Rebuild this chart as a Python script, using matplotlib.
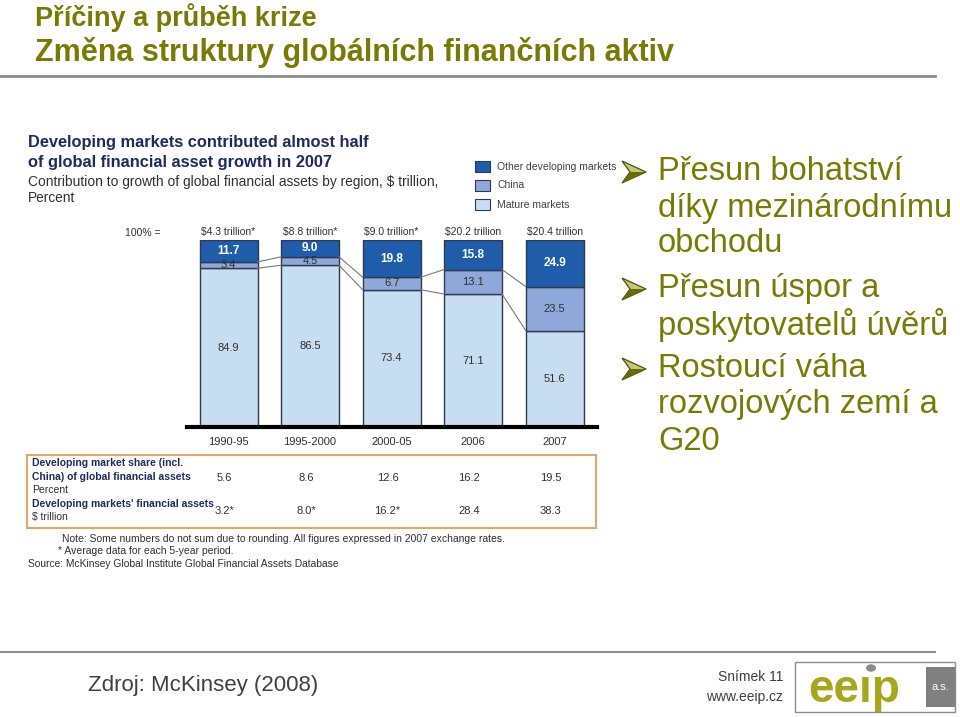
# -*- coding: utf-8 -*-
# %%
import matplotlib

matplotlib.use("Agg")
import matplotlib.pyplot as plt
import numpy as np
from matplotlib.patches import Circle, Polygon, Rectangle
from matplotlib.transforms import blended_transform_factory

# %%
periods = ["1990-95", "1995-2000", "2000-05", "2006", "2007"]
totals = ["$4.3 trillion*", "$8.8 trillion*", "$9.0 trillion*", "$20.2 trillion", "$20.4 trillion"]
mature = [84.9, 86.5, 73.4, 71.1, 51.6]
china = [3.4, 4.5, 6.7, 13.1, 23.5]
other_dev = [11.7, 9.0, 19.8, 15.8, 24.9]
dev_share = ["5.6", "8.6", "12.6", "16.2", "19.5"]
dev_assets = ["3.2*", "8.0*", "16.2*", "28.4", "38.3"]

bullets = [
    ["Přesun bohatství", "díky mezinárodnímu", "obchodu"],
    ["Přesun úspor a", "poskytovatelů úvěrů"],
    ["Rostoucí váha", "rozvojových zemí a", "G20"],
]

# %%
W, H = 960, 717
OLIVE = "#787A05"
NAVY = "#1E2B5E"
C_OTHER, C_CHINA, C_MATURE = "#1F5CAA", "#8EA9D9", "#C7DDF1"
EDGE = "#2E3A52"
SANS = ["Liberation Sans", "DejaVu Sans"]
NARROW = ["Liberation Sans Narrow", "Liberation Sans", "DejaVu Sans"]

plt.rcParams["font.family"] = SANS


def fx(x):
    return x / W


def fy(y):
    return 1 - y / H


fig = plt.figure(figsize=(W / 100, H / 100), dpi=100)

# slide title
fig.text(fx(35), fy(18), "Příčiny a průběh krize", color=OLIVE, fontsize=19.5,
         fontweight="bold", family=NARROW, va="center")
fig.text(fx(35), fy(53), "Změna struktury globálních finančních aktiv", color=OLIVE,
         fontsize=22, fontweight="bold", family=NARROW, va="center")
fig.add_artist(plt.Line2D([0, fx(935)], [fy(76), fy(76)], color="#8C8C8C", lw=2))

# chart heading
fig.text(fx(28), fy(143), "Developing markets contributed almost half", color=NAVY,
         fontsize=11.8, fontweight="bold", va="center")
fig.text(fx(28), fy(163), "of global financial asset growth in 2007", color=NAVY,
         fontsize=11.8, fontweight="bold", va="center")
fig.text(fx(28), fy(182), "Contribution to growth of global financial assets by region, $ trillion,",
         color="#303030", fontsize=9.9, family=NARROW, va="center")
fig.text(fx(28), fy(198), "Percent", color="#303030", fontsize=9.9, family=NARROW, va="center")

# legend
for i, (lab, col) in enumerate([("Other developing markets", C_OTHER), ("China", C_CHINA),
                                 ("Mature markets", C_MATURE)]):
    y0 = 161 + i * 19
    fig.add_artist(Rectangle((fx(475), fy(y0 + 11)), 15 / W, 11 / H, facecolor=col,
                             edgecolor=EDGE, lw=0.8))
    fig.text(fx(497), fy(y0 + 5.5), lab, color="#404040", fontsize=7.5, family=NARROW,
             va="center")

# %%
ax = fig.add_axes([fx(187), fy(427), (597 - 187) / W, (427 - 240) / H])
x = np.arange(len(periods))
w = 0.71
m = np.array(mature)
c = np.array(china)
o = np.array(other_dev)
ax.bar(x, m, w, color=C_MATURE, edgecolor=EDGE, lw=1)
ax.bar(x, c, w, bottom=m, color=C_CHINA, edgecolor=EDGE, lw=1)
ax.bar(x, o, w, bottom=m + c, color=C_OTHER, edgecolor=EDGE, lw=1)

for lev in [m, m + c]:
    for i in range(len(x) - 1):
        ax.plot([x[i] + w / 2, x[i + 1] - w / 2], [lev[i], lev[i + 1]], color="#7A7A7A", lw=0.8)

for i in range(len(x)):
    ax.text(x[i], m[i] / 2, f"{m[i]:.1f}", ha="center", va="center", fontsize=8,
            color="#303030", family=NARROW)
    ax.text(x[i], m[i] + c[i] / 2, f"{c[i]:.1f}", ha="center", va="center", fontsize=8,
            color="#303030", family=NARROW)
    ax.text(x[i], m[i] + c[i] + o[i] / 2, f"{o[i]:.1f}", ha="center", va="center",
            fontsize=8.5, color="white", fontweight="bold")
    ax.text(x[i], 104.5, totals[i], ha="center", va="center", fontsize=7.5,
            color="#303030", family=NARROW)
    ax.text(x[i], -8, periods[i], ha="center", va="center", fontsize=8,
            color="#303030", family=NARROW)

ax.text(-1.05, 103.5, "100% =", ha="center", va="center", fontsize=7.5, color="#303030",
        family=NARROW)
ax.set_xlim(-0.51, 4.52)
ax.set_ylim(0, 100)
ax.axhline(0, color="black", lw=3, clip_on=False)
ax.axis("off")

# %%
# table under the chart
fig.add_artist(Rectangle((fx(27), fy(528)), (596 - 27) / W, (528 - 455) / H, fill=False,
                         edgecolor="#E4A66A", lw=1.5))
fig.text(fx(32), fy(463), "Developing market share (incl.", color=NAVY, fontsize=7.5,
         fontweight="bold", va="center")
fig.text(fx(32), fy(477), "China) of global financial assets", color=NAVY, fontsize=7.5,
         fontweight="bold", va="center")
fig.text(fx(32), fy(490), "Percent", color="#303030", fontsize=7.5, va="center", family=NARROW)
fig.text(fx(32), fy(504), "Developing markets' financial assets", color=NAVY, fontsize=7.5,
         fontweight="bold", va="center")
fig.text(fx(32), fy(517), "$ trillion", color="#303030", fontsize=7.5, va="center", family=NARROW)

tr = blended_transform_factory(ax.transData, fig.transFigure)
for i in range(len(x)):
    fig.text(x[i] - 0.05, fy(478), dev_share[i], transform=tr, ha="center", va="center",
             fontsize=8, color="#303030", family=NARROW)
    fig.text(x[i] - 0.05, fy(511), dev_assets[i], transform=tr, ha="center", va="center",
             fontsize=8, color="#303030", family=NARROW)

fig.text(fx(62), fy(539), "Note: Some numbers do not sum due to rounding. All figures expressed in 2007 exchange rates.",
         color="#303030", fontsize=7.5, family=NARROW, va="center")
fig.text(fx(58), fy(551), "* Average data for each 5-year period.", color="#303030",
         fontsize=7.5, family=NARROW, va="center")
fig.text(fx(28), fy(564), "Source: McKinsey Global Institute Global Financial Assets Database",
         color="#303030", fontsize=7.4, family=NARROW, va="center")

# %%
# bullets on the right
line_y = [[172, 208, 244], [289, 325], [369, 405, 441]]
for lines, ys in zip(bullets, line_y):
    yc = ys[0]
    arrow = [(622, yc - 11), (646, yc), (622, yc + 11), (630, yc)]
    fig.add_artist(Polygon([(fx(px), fy(py)) for px, py in arrow], closed=True,
                           facecolor="#C4C680", edgecolor="#4E5000", lw=0.9))
    fig.add_artist(Polygon([(fx(px), fy(py)) for px, py in
                            [(622, yc + 11), (646, yc), (630, yc)]], closed=True,
                           facecolor="#6A6C08", edgecolor="none"))
    for txt, yy in zip(lines, ys):
        fig.text(fx(658), fy(yy), txt, color=OLIVE, fontsize=23.5, va="center")

# %%
# footer
fig.add_artist(plt.Line2D([0, fx(935)], [fy(652), fy(652)], color="#8C8C8C", lw=1.5))
fig.text(fx(88), fy(686), "Zdroj: McKinsey (2008)", color="#404040", fontsize=16,
         family=NARROW, va="center")
fig.text(fx(783), fy(677), "Snímek 11", color="#404040", fontsize=10, family=NARROW,
         ha="right", va="center")
fig.text(fx(783), fy(697), "www.eeip.cz", color="#404040", fontsize=10, family=NARROW,
         ha="right", va="center")

fig.add_artist(Rectangle((fx(795), fy(712)), 160 / W, 50 / H, facecolor="white",
                         edgecolor="#8C8C8C", lw=1))
fig.add_artist(Rectangle((fx(926), fy(707)), 29 / W, 40 / H, facecolor="#808080",
                         edgecolor="none"))
fig.text(fx(940), fy(687), "a.s.", color="white", fontsize=8, ha="center", va="center")
fig.text(fx(808), fy(702), "ee\u0131p", color="#A8A61C", fontsize=33, fontweight="bold",
         ha="left", va="baseline")
fig.add_artist(Circle((fx(871), fy(668)), 5 / W, facecolor="#8C8C8C", edgecolor="none"))

fig.savefig("out.png", dpi=100)
